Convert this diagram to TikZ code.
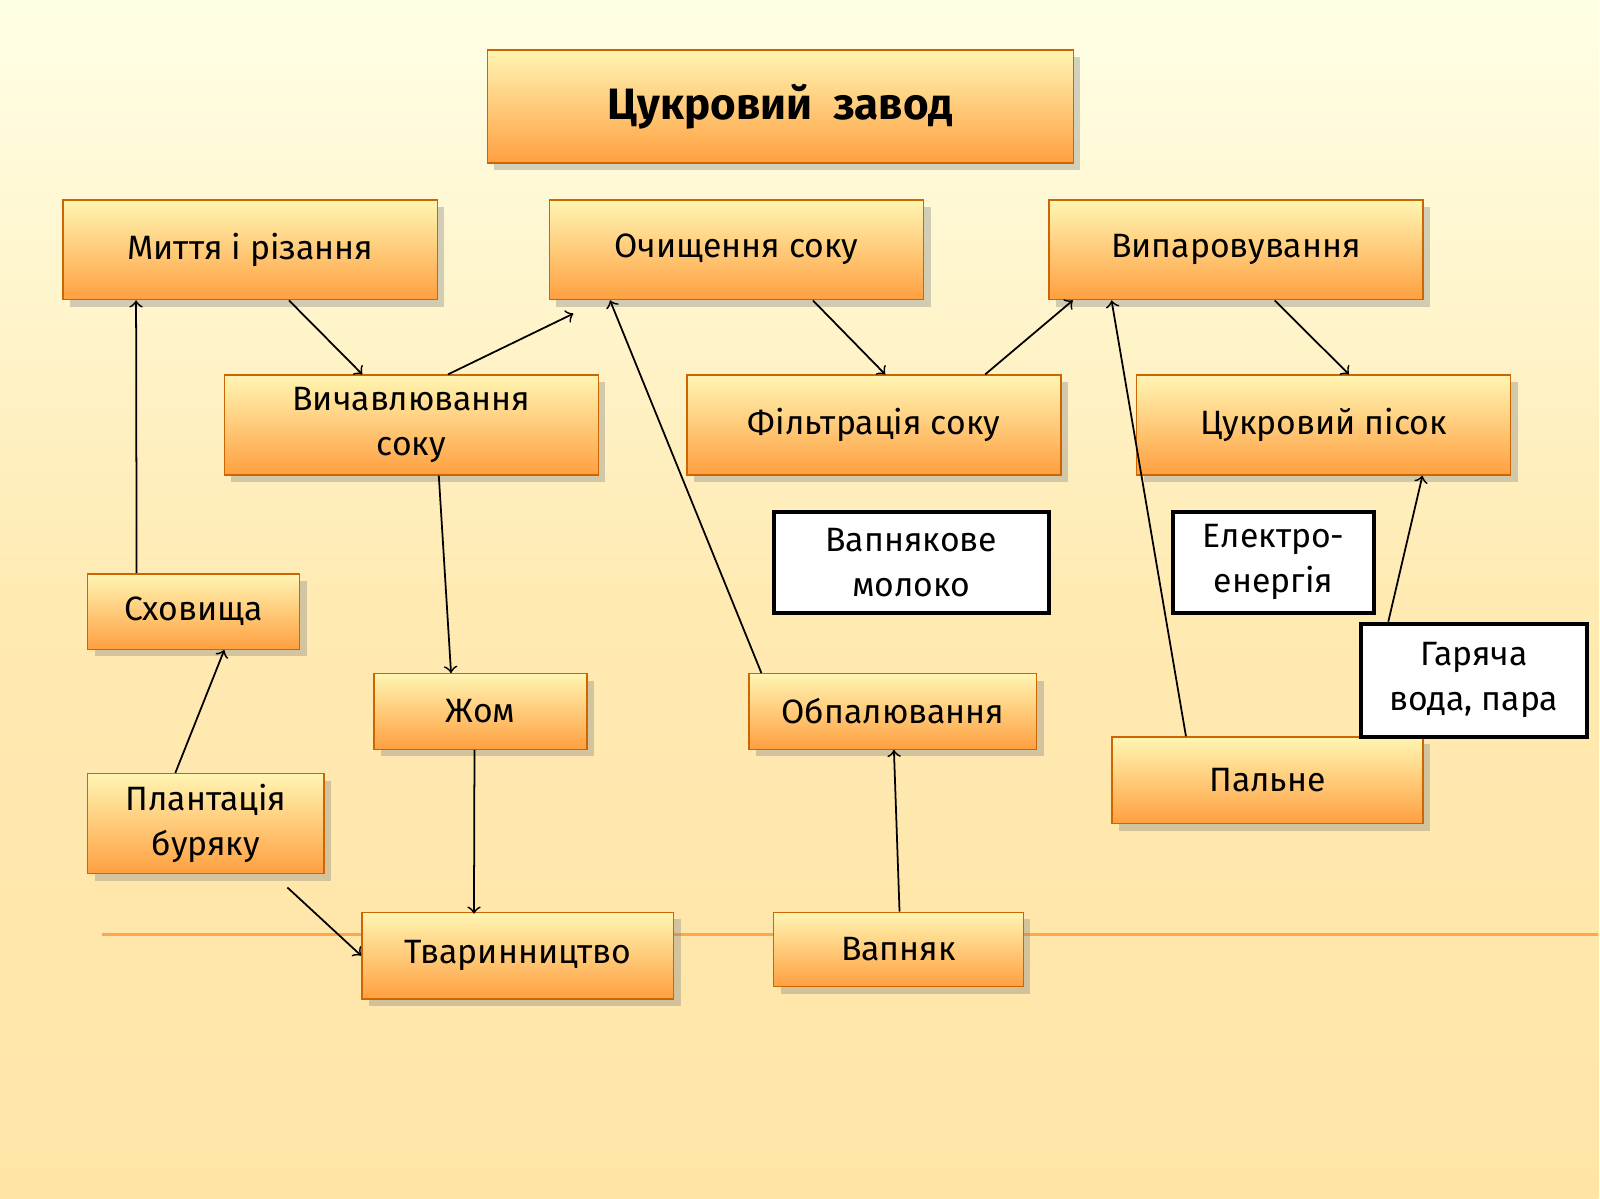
\documentclass[tikz,border=0pt]{standalone}
\usepackage{fontspec}
\setmainfont{Fira Sans}
\usetikzlibrary{shadows,calc}
% box styles
\tikzset{
  block/.style={draw=orange!80!black, line width=0.4pt, top color=orange!25!yellow!30, bottom color=orange!75,
    drop shadow={shadow xshift=2pt,shadow yshift=-2pt,opacity=0.35}, align=center, inner sep=1pt,
    font=\fontsize{9.6}{12.8}\selectfont},
  note/.style={draw=black, line width=1.2pt, fill=white, align=center, inner sep=1pt,
    font=\fontsize{9.6}{12.8}\selectfont},
  link/.style={->, >=to, line width=0.5pt}
}
\newcommand\bx[7]{\node[#1, minimum width={(#5-#3)*0.0102cm}, minimum height={(#6-#4)*0.0102cm}]
  (#2) at ({(#3+#5)/2},{(#4+#6)/2}) {#7};}
\begin{document}
\begin{tikzpicture}[x=0.0102cm,y=-0.0102cm]
  % background
  \shade[top color=white!90!yellow, bottom color=yellow!40!orange!35, middle color=yellow!45!orange!30]
    (0,0) rectangle (1568,1176);
  \draw[orange!70, line width=1pt] (100,917) -- (1568,917);
  % boxes
  \bx{block}{title}{478}{49}{1053}{160}{\fontsize{12.5}{14}\selectfont\bfseries Цукровий\ \ завод}
  \bx{block}{wash}{62}{196}{429}{294}{Миття і різання}
  \bx{block}{clean}{539}{196}{906}{294}{Очищення соку}
  \bx{block}{evap}{1029}{196}{1396}{294}{Випаровування}
  \bx{block}{press}{220}{368}{587}{466}{Вичавлювання\\соку}
  \bx{block}{filter}{674}{368}{1041}{466}{Фільтрація соку}
  \bx{block}{sugar}{1115}{368}{1482}{466}{Цукровий пісок}
  \bx{note}{milk}{759}{502}{1029}{601}{Вапнякове\\молоко}
  \bx{note}{power}{1151}{502}{1348}{601}{Електро-\\енергія}
  \bx{block}{store}{86}{563}{294}{637}{Сховища}
  \bx{block}{pulp}{367}{661}{576}{735}{Жом}
  \bx{block}{burn}{735}{661}{1017}{735}{Обпалювання}
  \bx{block}{fuel}{1091}{723}{1396}{808}{Пальне}
  \bx{note}{hot}{1335}{612}{1557}{723}{Гаряча\\вода, пара}
  \bx{block}{farm}{86}{759}{318}{857}{Плантація\\буряку}
  \bx{block}{cattle}{355}{895}{661}{980}{Тваринництво}
  \bx{block}{lime}{759}{895}{1004}{968}{Вапняк}
  % connectors
  \draw[link] ([xshift=38*0.0102cm]wash.south) -- ([xshift=-48*0.0102cm]press.north);
  \draw[link] ([xshift=36*0.0102cm]press.north) -- ([xshift=-160*0.0102cm,yshift=-13*0.0102cm]clean.south);
  \draw[link] ([xshift=75*0.0102cm]clean.south) -- ([xshift=11*0.0102cm]filter.north);
  \draw[link] ([xshift=109*0.0102cm]filter.north) -- ([xshift=-160*0.0102cm]evap.south);
  \draw[link] ([xshift=38*0.0102cm]evap.south) -- ([xshift=25*0.0102cm]sugar.north);
  \draw[link] ([xshift=-56*0.0102cm]store.north) -- ([xshift=-112*0.0102cm]wash.south);
  \draw[link] ([xshift=-30*0.0102cm]farm.north) -- ([xshift=30*0.0102cm]store.south);
  \draw[link] ([xshift=80*0.0102cm,yshift=-13*0.0102cm]farm.south) -- (cattle.west);
  \draw[link] ([xshift=27*0.0102cm]press.south) -- ([xshift=-29*0.0102cm]pulp.north);
  \draw[link] ([xshift=-6*0.0102cm]pulp.south) -- ([xshift=-43*0.0102cm,yshift=-2*0.0102cm]cattle.north);
  \draw[link] ([xshift=-129*0.0102cm]burn.north) -- ([xshift=-124*0.0102cm]clean.south);
  \draw[link] ([xshift=1*0.0102cm]lime.north) -- ([xshift=1*0.0102cm]burn.south);
  \draw[link] ([xshift=-80*0.0102cm]fuel.north) -- ([xshift=-122*0.0102cm]evap.south);
  \draw[link] ([xshift=-84*0.0102cm]hot.north) -- ([xshift=97*0.0102cm]sugar.south);
\end{tikzpicture}
\end{document}
